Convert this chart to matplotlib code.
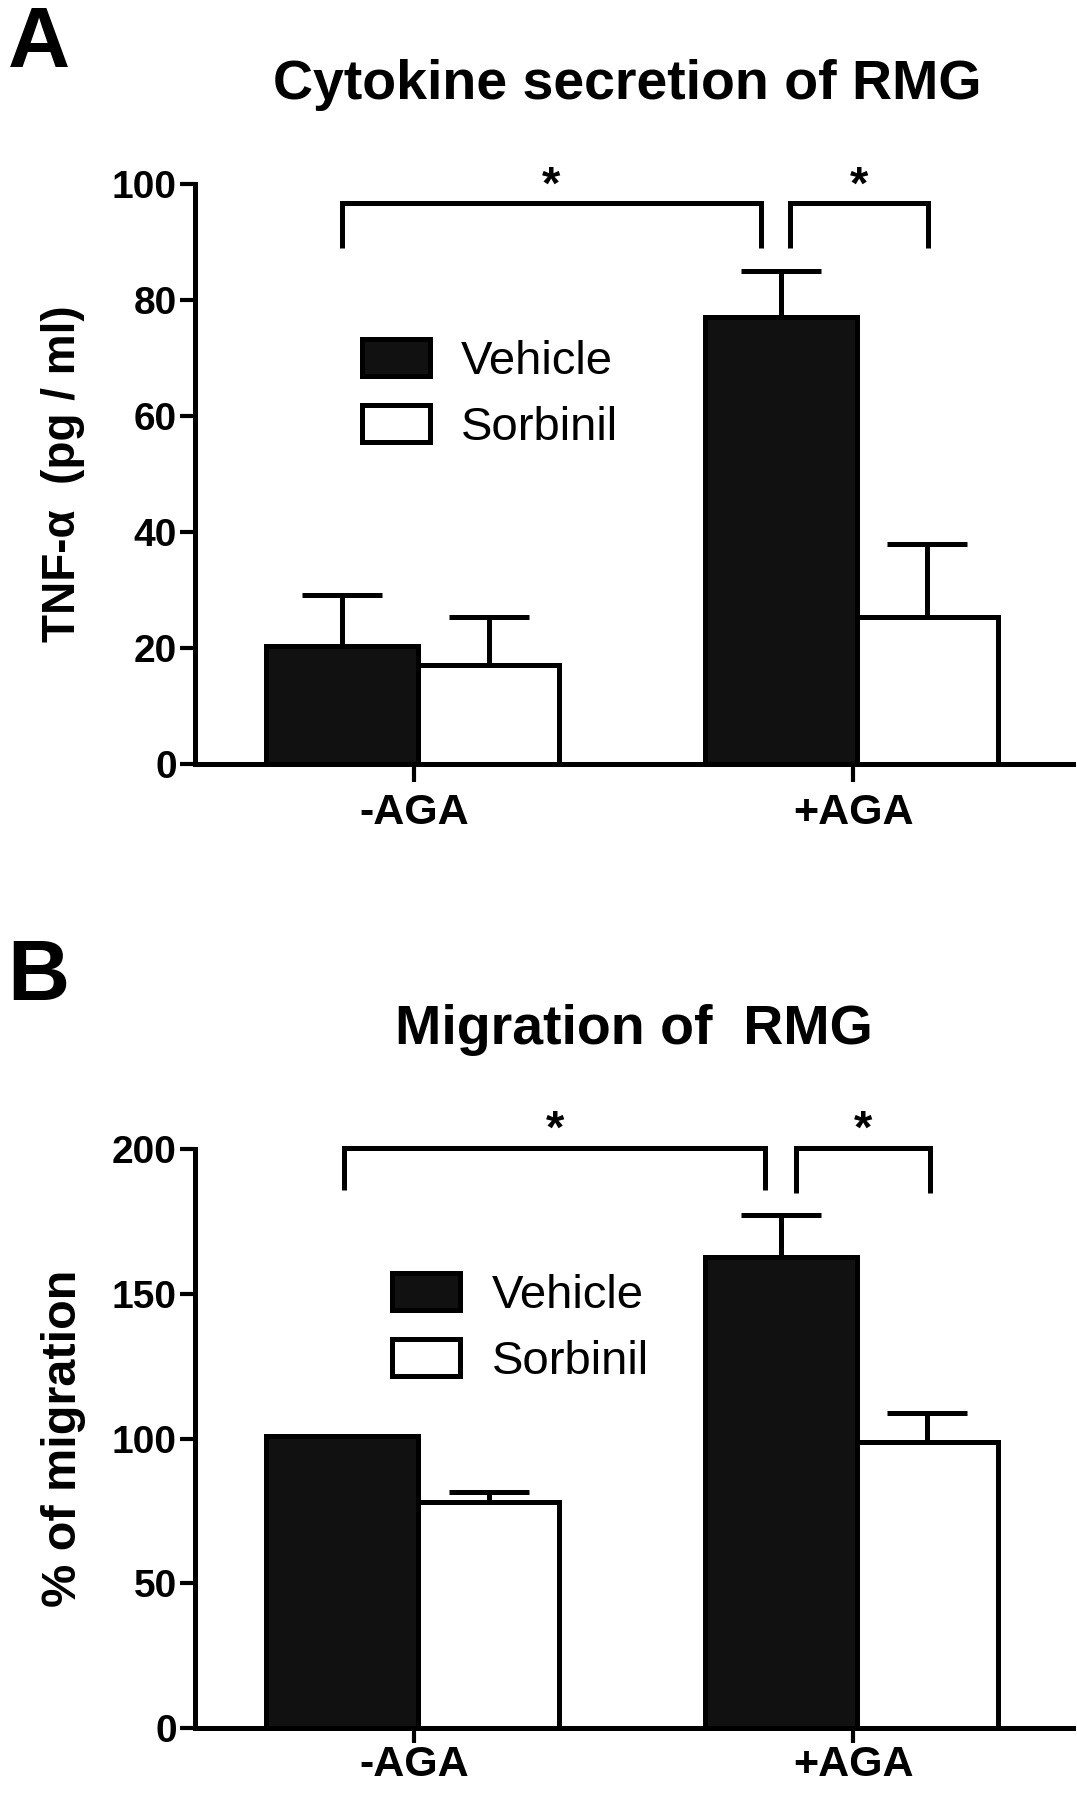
import numpy as np
import matplotlib
matplotlib.use('Agg')
import matplotlib.pyplot as plt
from matplotlib.patches import Patch

plt.rcParams['font.family'] = ['Liberation Sans', 'DejaVu Sans']

# data
groups = ['-AGA', '+AGA']
series = ['Vehicle', 'Sorbinil']

tnf_vehicle = [20.4, 77.0]
tnf_vehicle_err = [8.7, 8.0]
tnf_sorbinil = [17.0, 25.3]
tnf_sorbinil_err = [8.3, 12.7]

mig_vehicle = [100.8, 162.7]
mig_vehicle_err = [0.0, 14.5]
mig_sorbinil = [78.2, 98.8]
mig_sorbinil_err = [3.2, 10.2]

tnf_ticks = [0, 20, 40, 60, 80, 100]
mig_ticks = [0, 50, 100, 150, 200]

LW = 3.6
W_VEH = 0.345
W_SOR = 0.322
SHIFT = 0.008
x = np.arange(len(groups))

fig = plt.figure(figsize=(10.77, 18), dpi=100)


def draw_panel(ax, veh, veh_err, sor, sor_err, ticks, ylabel, ylsize, brackets, star_y, legend_pos,
               xpad, xlen):
    ax.bar(x + SHIFT - W_VEH, veh, width=W_VEH, align='edge', color='#111111', edgecolor='black',
           linewidth=LW, zorder=2)
    ax.bar(x + SHIFT, sor, width=W_SOR, align='edge', color='white', edgecolor='black',
           linewidth=LW, zorder=2)
    ax.errorbar(x + SHIFT - W_VEH / 2, veh, yerr=[np.zeros(len(veh)), veh_err], fmt='none',
                ecolor='black', elinewidth=LW, capsize=29, capthick=LW, zorder=1)
    ax.errorbar(x + SHIFT + W_SOR / 2, sor, yerr=[np.zeros(len(sor)), sor_err], fmt='none',
                ecolor='black', elinewidth=LW, capsize=29, capthick=LW, zorder=3)
    for (x0, x1, ytop, ylo) in brackets:
        ax.plot([x0, x0, x1, x1], [ylo, ytop, ytop, ylo], color='black', lw=LW,
                solid_joinstyle='miter', solid_capstyle='butt', clip_on=False)
        ax.text((x0 + x1) / 2, star_y, '*', ha='center', va='center', fontsize=34,
                fontweight='bold', clip_on=False)
    ax.set_xlim(-0.5, 1.5)
    ax.set_ylim(ticks[0], ticks[-1])
    ax.set_yticks(ticks)
    ax.set_xticks(x)
    ax.set_xticklabels(groups, fontsize=31, fontweight='bold')
    for lab in ax.get_yticklabels():
        lab.set_fontsize(28)
        lab.set_fontweight('bold')
    ax.tick_params(axis='y', length=11, width=3, pad=2)
    ax.tick_params(axis='x', length=xlen, width=3, pad=xpad)
    for s in ['top', 'right']:
        ax.spines[s].set_visible(False)
    for s in ['left', 'bottom']:
        ax.spines[s].set_linewidth(LW)
    ax.text(-0.15, 0.5, ylabel, transform=ax.transAxes, rotation=90, ha='center', va='center',
            fontsize=ylsize, fontweight='bold')
    handles = [Patch(facecolor='#111111', edgecolor='black', linewidth=LW),
               Patch(facecolor='white', edgecolor='black', linewidth=LW)]
    ax.legend(handles, series, loc='upper left', bbox_to_anchor=legend_pos, frameon=False,
              fontsize=34, handlelength=1.44, handleheight=0.83, handletextpad=0.66,
              labelspacing=0.45, borderpad=0, borderaxespad=0)


axA = fig.add_axes([0.181, 0.5756, 0.815, 0.3222])
draw_panel(axA, tnf_vehicle, tnf_vehicle_err, tnf_sorbinil, tnf_sorbinil_err, tnf_ticks,
           'TNF-\u03b1  (pg / ml)', 33,
           [(-0.165, 0.79, 96.7, 89.0), (0.855, 1.17, 96.7, 89.0)], 99.6, (0.19, 0.733), 8, 13)

axB = fig.add_axes([0.181, 0.040, 0.815, 0.3215])
draw_panel(axB, mig_vehicle, mig_vehicle_err, mig_sorbinil, mig_sorbinil_err, mig_ticks,
           '% of migration', 35,
           [(-0.16, 0.80, 200.4, 186.0), (0.87, 1.175, 200.4, 185.0)], 206.5, (0.225, 0.786), 1, 11)

fig.text(0.582, 0.953, 'Cytokine secretion of RMG', ha='center', va='center', fontsize=40, fontweight='bold')
fig.text(0.589, 0.428, 'Migration of  RMG', ha='center', va='center', fontsize=40, fontweight='bold')
fig.text(0.007, 0.997, 'A', ha='left', va='top', fontsize=62, fontweight='bold')
fig.text(0.007, 0.479, 'B', ha='left', va='top', fontsize=62, fontweight='bold')

fig.savefig('out.png', dpi=100)
